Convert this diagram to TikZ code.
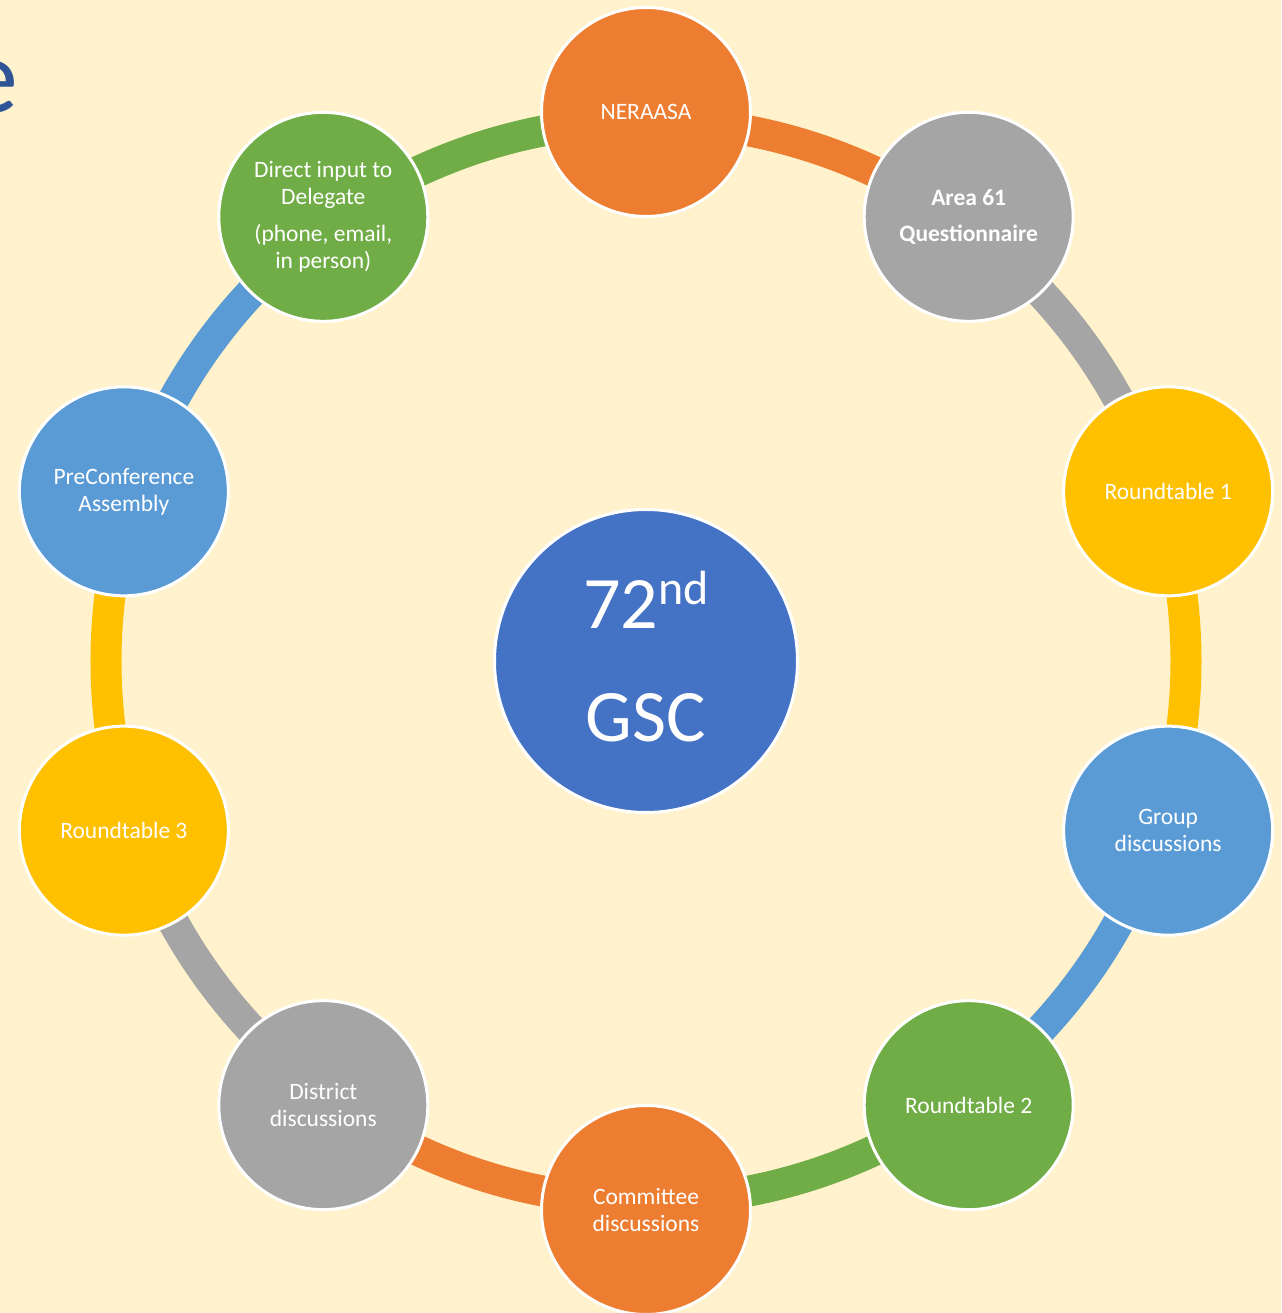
\documentclass[tikz,border=0pt]{standalone}
\usepackage{fontspec}
\setmainfont{Carlito}

\definecolor{paper}{HTML}{FFF2CC}
\definecolor{orangefill}{HTML}{ED7D31}
\definecolor{grayfill}{HTML}{A5A5A5}
\definecolor{goldfill}{HTML}{FFC000}
\definecolor{skyfill}{HTML}{5B9BD5}
\definecolor{greenfill}{HTML}{70AD47}
\definecolor{corefill}{HTML}{4472C4}
\definecolor{titleblue}{HTML}{2F5597}
\tikzset{
  stage/.style={circle,fill=#1,draw=white,line width=3pt,minimum size=209pt,
    inner sep=0pt,text=white,align=center,font=\fontsize{23.5}{27}\selectfont},
  core/.style={circle,fill=corefill,draw=white,line width=3pt,minimum size=303pt,
    inner sep=0pt,text=white,align=center,font=\fontsize{74}{89}\selectfont},
  ring/.style={draw=#1,line width=31pt},
}

\begin{document}
\begin{tikzpicture}[x=1pt,y=1pt]
  \useasboundingbox (-646,-652) rectangle (635,661);
  \clip (-646,-652) rectangle (635,661);
  \fill [paper] (-646,-652) rectangle (635,661);
  % cut-off title letter
  \node [anchor=base east,inner sep=0pt,text=titleblue,font=\fontsize{106}{120}\selectfont] (title) at (-628,548) {e};

  % ring points
  \coordinate (r1) at (90:540);
  \coordinate (r2) at (54:540);
  \coordinate (r3) at (18:540);
  \coordinate (r4) at (-18:540);
  \coordinate (r5) at (-54:540);
  \coordinate (r6) at (-90:540);
  \coordinate (r7) at (-126:540);
  \coordinate (r8) at (-162:540);
  \coordinate (r9) at (162:540);
  \coordinate (r10) at (126:540);
  \draw [ring=orangefill] (r1) arc [start angle=90,end angle=54,radius=540];
  \draw [ring=grayfill] (r2) arc [start angle=54,end angle=18,radius=540];
  \draw [ring=goldfill] (r3) arc [start angle=18,end angle=-18,radius=540];
  \draw [ring=skyfill] (r4) arc [start angle=-18,end angle=-54,radius=540];
  \draw [ring=greenfill] (r5) arc [start angle=-54,end angle=-90,radius=540];
  \draw [ring=orangefill] (r6) arc [start angle=-90,end angle=-126,radius=540];
  \draw [ring=grayfill] (r7) arc [start angle=-126,end angle=-162,radius=540];
  \draw [ring=goldfill] (r8) arc [start angle=-162,end angle=-198,radius=540];
  \draw [ring=skyfill] (r9) arc [start angle=162,end angle=126,radius=540];
  \draw [ring=greenfill] (r10) arc [start angle=126,end angle=90,radius=540];

  \node [core] (gsc) at (0,0) {72\smash{\raisebox{24pt}{\fontsize{48}{50}\selectfont nd}}\\[24pt]GSC};

  \node [stage=orangefill] (neraasa) at (90:549) {NERAASA};
  \node [stage=grayfill,font=\fontsize{23.5}{27}\selectfont\bfseries] (area) at (54:549) {Area 61\\[9pt]Questionnaire};
  \node [stage=goldfill] (rt1) at (18:549) {Roundtable 1};
  \node [stage=skyfill] (group) at (-18:549) {Group\\discussions};
  \node [stage=greenfill] (rt2) at (-54:549) {Roundtable 2};
  \node [stage=orangefill] (committee) at (-90:549) {Committee\\discussions};
  \node [stage=grayfill] (district) at (-126:549) {District\\discussions};
  \node [stage=goldfill] (rt3) at (-162:549) {Roundtable 3};
  \node [stage=skyfill] (preconf) at (162:549) {PreConference\\Assembly};
  \node [stage=greenfill] (direct) at (126:549) {Direct input to\\Delegate\\[10pt](phone, email,\\in person)};
\end{tikzpicture}
\end{document}
